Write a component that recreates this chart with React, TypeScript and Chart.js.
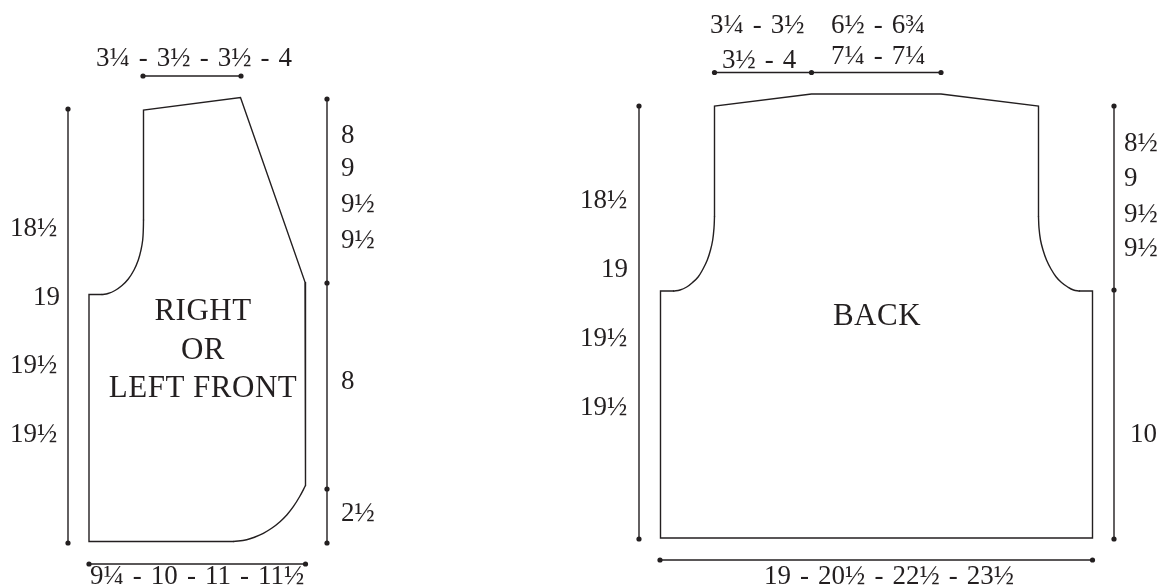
import React, { useEffect, useRef } from "react";
import { Chart, registerables } from "chart.js";

Chart.register(...registerables);

type P = { x: number; y: number };
const pts = (xs: number[], ys: number[]): P[] => xs.map((x, i) => ({ x, y: ys[i] }));

// Front piece outline
const frontStraightX = [143.5, 143.5, 240.5, 305, 305.5];
const frontStraightY = [220, 110, 97.5, 282, 485.5];
const frontHemCurveX = [305.5, 299.7, 293.3, 287, 280, 272, 263.3, 255, 246.7, 233.3];
const frontHemCurveY = [485.5, 496.5, 506.7, 514.7, 521.7, 528, 533.3, 537, 539.7, 541.5];
const frontBaseX = [233.3, 89, 89, 102];
const frontBaseY = [541.5, 541.5, 294.5, 294.5];
const frontArmX = [102, 108, 115, 122, 128.3, 134, 138.3, 141, 142.7, 143.3, 143.5];
const frontArmY = [294.5, 293.5, 290.5, 285.5, 279, 270, 260, 250, 240, 230, 220];

// Back piece outline
const backStraightX = [714.5, 714.5, 811.5, 941, 1038.5, 1038.5];
const backStraightY = [216.5, 106, 94, 94, 106, 216.5];
const backArmRightX = [1038.5, 1039, 1040.5, 1043, 1046.5, 1051, 1056, 1061.5, 1067.7, 1073.5, 1079.5];
const backArmRightY = [216.5, 228, 240, 250, 260, 269, 276.7, 282.5, 287, 290, 291];
const backBaseX = [1079.5, 1092.5, 1092.5, 660.5, 660.5, 673.5];
const backBaseY = [291, 291, 538, 538, 291, 291];
const backArmLeftX = [673.5, 680, 686.7, 692.5, 698.3, 703, 707.3, 710.5, 712.7, 714, 714.5];
const backArmLeftY = [291, 290, 287, 282.5, 276.7, 269, 260, 250, 240, 228, 216.5];

// Dimension lines
const dimFrontTopX = [143, 241];
const dimFrontTopY = [76, 76];
const dimFrontLeftX = [68, 68];
const dimFrontLeftY = [109, 543];
const dimFrontRightX = [327, 327, 327, 327];
const dimFrontRightY = [99, 283, 489, 543];
const dimFrontBottomX = [89, 305.5];
const dimFrontBottomY = [564, 564];
const dimBackTopX = [714.5, 811.5, 941];
const dimBackTopY = [72.5, 72.5, 72.5];
const dimBackLeftX = [639, 639];
const dimBackLeftY = [106, 539];
const dimBackRightX = [1114, 1114, 1114];
const dimBackRightY = [106, 290, 539];
const dimBackBottomX = [660, 1092.5];
const dimBackBottomY = [560, 560];

// Labels
const leftLabels = [
  "3¼ - 3½ - 3½ - 4", "8", "9", "9½", "9½", "18½", "19", "19½", "19½", "8", "2½",
  "3¼ - 3½", "6½ - 6¾", "3½ - 4", "7¼ - 7¼", "18½", "19", "19½", "19½", "8½", "9", "9½", "9½", "10",
  "9¼ - 10 - 11 - 11½", "19 - 20½ - 22½ - 23½",
];
const leftLabelX = [
  96, 341, 341, 341, 341, 10, 33, 10, 10, 341, 341,
  710, 831, 722, 831, 580, 601, 580, 580, 1124, 1124, 1124, 1124, 1130,
  90, 764,
];
const leftLabelY = [
  66, 143, 176, 212, 248, 236, 305, 373, 442, 389, 521,
  33, 33, 68, 64, 208, 277, 346, 415, 151, 186, 222, 256, 442,
  584, 584,
];
const centerLabels = ["RIGHT", "OR", "LEFT FRONT", "BACK"];
const centerLabelX = [203, 203, 203, 877];
const centerLabelY = [320, 359, 397, 325];

const INK = "#231f20";

export default function App() {
  const ref = useRef<HTMLCanvasElement>(null);
  useEffect(() => {
    if (!ref.current) return;
    const outline = (xs: number[], ys: number[], tension = 0) => ({
      data: pts(xs, ys), showLine: true, borderColor: INK, backgroundColor: INK,
      borderWidth: 1.4, pointRadius: 0, tension, fill: false, clip: false as const,
      borderCapStyle: "round" as const, borderJoinStyle: "miter" as const,
    });
    const dim = (xs: number[], ys: number[]) => ({
      data: pts(xs, ys), showLine: true, borderColor: INK, backgroundColor: INK,
      borderWidth: 1.4, pointRadius: 2.6, pointBorderWidth: 0, tension: 0, fill: false, clip: false as const,
    });
    const labelPlugin = {
      id: "labels",
      afterDatasetsDraw(chart: any) {
        const { ctx, scales } = chart;
        ctx.save();
        ctx.fillStyle = INK;
        ctx.font = '27px "Liberation Serif"';
        ctx.wordSpacing = "2.3px";
        ctx.textBaseline = "alphabetic";
        ctx.textAlign = "left";
        leftLabels.forEach((t, i) =>
          ctx.fillText(t, scales.x.getPixelForValue(leftLabelX[i]), scales.y.getPixelForValue(leftLabelY[i])));
        ctx.font = '31px "Liberation Serif"';
        ctx.wordSpacing = "0px";
        ctx.letterSpacing = "0.5px";
        ctx.textAlign = "center";
        centerLabels.forEach((t, i) =>
          ctx.fillText(t, scales.x.getPixelForValue(centerLabelX[i]), scales.y.getPixelForValue(centerLabelY[i])));
        ctx.restore();
      },
    };
    const chart = new Chart(ref.current, {
      type: "scatter",
      data: {
        datasets: [
          outline(frontStraightX, frontStraightY),
          outline(frontHemCurveX, frontHemCurveY, 0.4),
          outline(frontBaseX, frontBaseY),
          outline(frontArmX, frontArmY, 0.4),
          outline(backStraightX, backStraightY),
          outline(backArmRightX, backArmRightY, 0.4),
          outline(backBaseX, backBaseY),
          outline(backArmLeftX, backArmLeftY, 0.4),
          dim(dimFrontTopX, dimFrontTopY),
          dim(dimFrontLeftX, dimFrontLeftY),
          dim(dimFrontRightX, dimFrontRightY),
          dim(dimFrontBottomX, dimFrontBottomY),
          dim(dimBackTopX, dimBackTopY),
          dim(dimBackLeftX, dimBackLeftY),
          dim(dimBackRightX, dimBackRightY),
          dim(dimBackBottomX, dimBackBottomY),
        ],
      },
      options: {
        animation: false,
        responsive: false,
        devicePixelRatio: 1,
        layout: { padding: 0, autoPadding: false },
        plugins: { legend: { display: false }, title: { display: false }, tooltip: { enabled: false } },
        scales: {
          x: { type: "linear", min: 0, max: 1161, display: false },
          y: { type: "linear", min: 0, max: 587, reverse: true, display: false },
        },
      },
      plugins: [labelPlugin],
    } as any);
    return () => chart.destroy();
  }, []);
  return (
    <div style={{ position: "absolute", left: 0, top: 0, width: 1161, height: 587, background: "#fff" }}>
      <canvas ref={ref} width={1161} height={587} style={{ display: "block" }} />
    </div>
  );
}
